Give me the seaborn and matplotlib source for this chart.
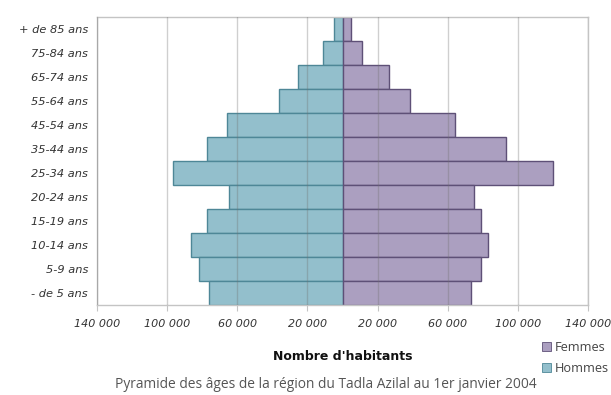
import matplotlib
matplotlib.use("Agg")
import matplotlib.pyplot as plt
from matplotlib.patches import Patch
from matplotlib.ticker import FixedLocator, FuncFormatter
import pandas as pd
import seaborn as sns

# Tranches d'âge, de la plus âgée (en haut) à la plus jeune
ages = ["+ de 85 ans", "75-84 ans", "65-74 ans", "55-64 ans", "45-54 ans",
        "35-44 ans", "25-34 ans", "20-24 ans", "15-19 ans", "10-14 ans",
        "5-9 ans", "- de 5 ans"]
hommes = [5100, 11400, 25500, 36200, 66000, 77500, 96600, 64700, 77100,
          86500, 81900, 76200]
femmes = [4800, 11400, 26700, 38700, 64200, 93500, 120200, 75200, 79000,
          83000, 79000, 73000]
ticks = [-140000, -100000, -60000, -20000, 20000, 60000, 100000, 140000]

couleurs = {"Hommes": "#93bfcc", "Femmes": "#ab9fc0"}
bords = {"Hommes": "#4e8797", "Femmes": "#5e5077"}

df = pd.concat([
    pd.DataFrame({"age": ages, "valeur": [-v for v in hommes], "sexe": "Hommes"}),
    pd.DataFrame({"age": ages, "valeur": femmes, "sexe": "Femmes"}),
])

sns.set_style("white")
plt.rcParams["font.family"] = ["DejaVu Sans"]

fig = plt.figure(figsize=(6.11, 3.95), dpi=100)
ax = fig.add_axes([97 / 611, 1 - 305 / 395, (588 - 97) / 611, (305 - 17) / 395])

sns.barplot(data=df, y="age", x="valeur", hue="sexe", order=ages,
            hue_order=["Hommes", "Femmes"], palette=couleurs, dodge=False,
            saturation=1, width=1.0, orient="h", linewidth=1.0,
            legend=False, ax=ax)

for cont, sexe in zip(ax.containers, ["Hommes", "Femmes"]):
    for bar in cont:
        bar.set_edgecolor(bords[sexe])
        bar.set_linewidth(1.0)

ax.set_xlim(-140000, 140000)
ax.set_ylim(len(ages) - 0.5, -0.5)
ax.xaxis.set_major_locator(FixedLocator(ticks))
ax.xaxis.set_major_formatter(
    FuncFormatter(lambda v, p: f"{abs(int(v)):,}".replace(",", " ")))
ax.set_axisbelow(False)
ax.grid(axis="x", color="#707070", alpha=0.33, linewidth=1.0)
ax.grid(axis="y", visible=False)

for s in ax.spines.values():
    s.set_color("#c4c4c4")
    s.set_linewidth(1.0)

ax.tick_params(axis="x", bottom=True, length=4, color="#c4c4c4", pad=6,
               labelsize=8, labelcolor="#333333")
ax.tick_params(axis="y", left=False, pad=3, labelsize=8.2, labelcolor="#333333")
for lab in ax.get_xticklabels() + ax.get_yticklabels():
    lab.set_fontstyle("italic")

ax.set_ylabel("")
ax.set_xlabel("Nombre d'habitants", fontsize=9, fontweight="bold",
              color="#111111", labelpad=15)

fig.text(326 / 611, 1 - 384 / 395, "Pyramide des âges de la région du Tadla Azilal au 1er janvier 2004",
         ha="center", va="center", fontsize=9.9, color="#555555",
         family=["Open Sans", "DejaVu Sans"])

handles = [Patch(facecolor=couleurs["Femmes"], edgecolor=bords["Femmes"], linewidth=0.6),
           Patch(facecolor=couleurs["Hommes"], edgecolor=bords["Hommes"], linewidth=0.6)]
leg = fig.legend(handles, ["Femmes", "Hommes"], loc="center left",
                 bbox_to_anchor=(536 / 611, 1 - 358 / 395), frameon=False,
                 handlelength=0.7, handleheight=0.7, handletextpad=0.3,
                 labelspacing=0.65, borderpad=0,
                 prop={"family": ["Open Sans", "DejaVu Sans"], "size": 9.2})
for t in leg.get_texts():
    t.set_color("#444444")

fig.savefig("out.png", dpi=100)
